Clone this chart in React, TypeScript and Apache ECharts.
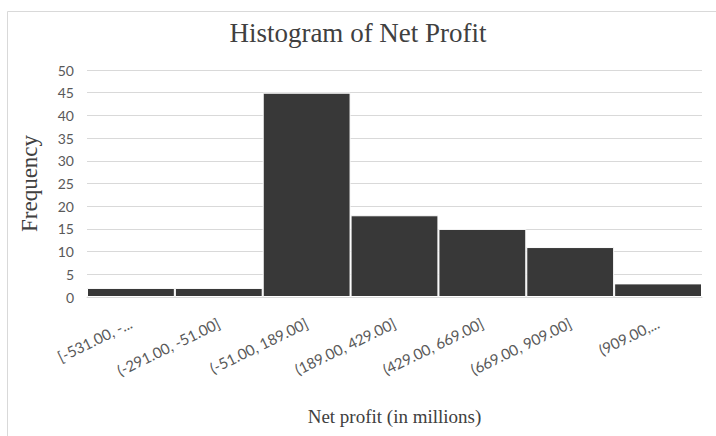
import React, { useEffect, useRef } from "react";
import * as echarts from "echarts";

const categories = [
  "[-531.00, -...",
  "(-291.00, -51.00]",
  "(-51.00, 189.00]",
  "(189.00, 429.00]",
  "(429.00, 669.00]",
  "(669.00, 909.00]",
  "(909.00,...",
];
const frequencies = [2, 2, 45, 18, 15, 11, 3];

export default function App() {
  const ref = useRef<HTMLDivElement>(null);
  useEffect(() => {
    if (!ref.current) return;
    const chart = echarts.init(ref.current, null, { renderer: "svg" });
    chart.setOption({
      animation: false,
      backgroundColor: "#ffffff",
      graphic: [
        {
          type: "rect",
          shape: { x: 7.5, y: 11.5, width: 800, height: 500 },
          style: { fill: "none", stroke: "#d9d9d9", lineWidth: 1 },
          silent: true,
          z: -1,
        },
      ],
      title: {
        text: "Histogram of Net Profit",
        left: "center",
        top: 14,
        textStyle: {
          fontFamily: "Liberation Serif",
          fontSize: 27,
          fontWeight: "normal",
          color: "#404040",
        },
      },
      grid: { left: 87, right: 14, top: 70, bottom: 139 },
      xAxis: {
        type: "category",
        data: categories,
        name: "Net profit (in millions)",
        nameLocation: "middle",
        nameGap: 110,
        nameTextStyle: {
          fontFamily: "Liberation Serif",
          fontSize: 19,
          color: "#404040",
        },
        axisLine: { show: true, lineStyle: { color: "#d9d9d9" } },
        axisTick: { show: false },
        axisLabel: {
          interval: 0,
          rotate: 26,
          margin: 25,
          fontFamily: "Lato",
          fontSize: 15,
          color: "#595959",
        },
      },
      yAxis: {
        type: "value",
        min: 0,
        max: 50,
        interval: 5,
        name: "Frequency",
        nameLocation: "middle",
        nameGap: 46,
        nameTextStyle: {
          fontFamily: "Liberation Serif",
          fontSize: 23,
          color: "#404040",
        },
        axisLine: { show: false },
        axisTick: { show: false },
        axisLabel: {
          margin: 13,
          fontFamily: "Lato",
          fontSize: 14,
          color: "#595959",
        },
        splitLine: { lineStyle: { color: "#d9d9d9", width: 1 } },
      },
      series: [
        {
          type: "bar",
          data: frequencies,
          barCategoryGap: "0%",
          itemStyle: {
            color: "#383838",
            borderColor: "#ffffff",
            borderWidth: 1,
          },
        },
      ],
    });
    return () => chart.dispose();
  }, []);
  return (
    <div
      ref={ref}
      style={{ position: "fixed", left: 0, top: 0, width: 716, height: 436 }}
    />
  );
}
